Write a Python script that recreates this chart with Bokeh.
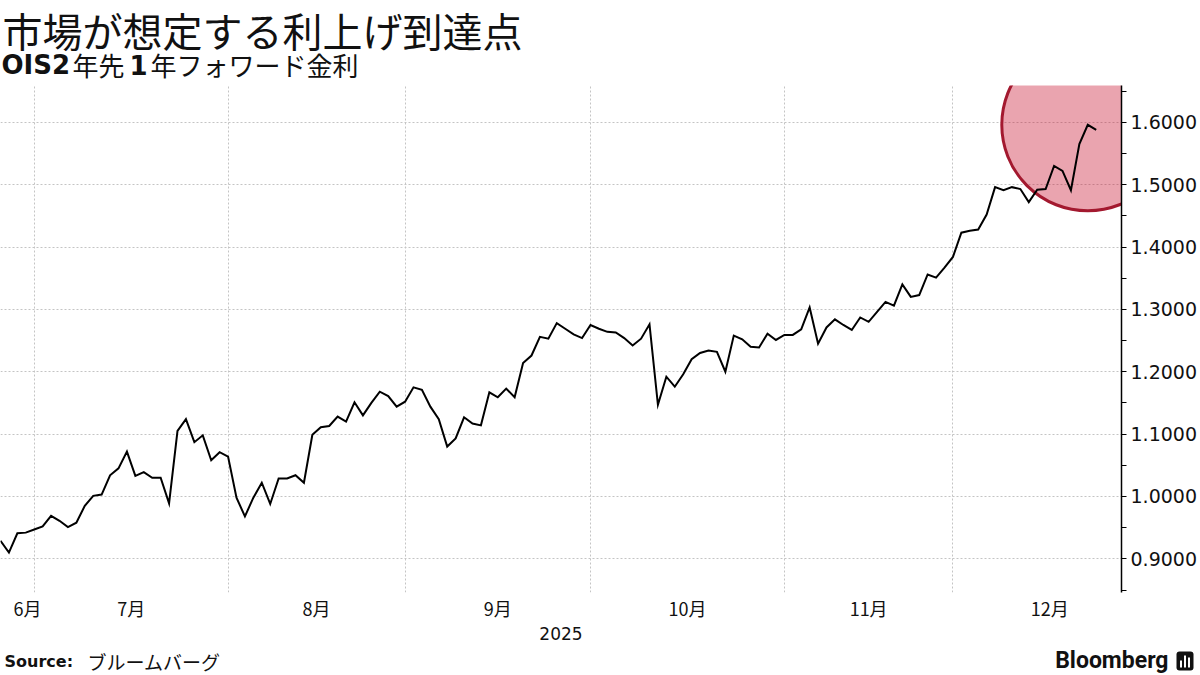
import pandas as pd
from bokeh.plotting import figure
from bokeh.layouts import column
from bokeh.models import FixedTicker, NumeralTickFormatter, BoxAnnotation, Range1d
from bokeh.core.properties import value
from bokeh.embed import file_html
from bokeh.resources import INLINE

title_text = "市場が想定する利上げ到達点"
subtitle_parts = ["OIS2", "年先", "1", "年フォワード金利"]
subtitle_bold = [True, False, True, False]
source_label = "Source:"
source_text = "ブルームバーグ"
brand = "Bloomberg"

start_date = "2025-06-25"
values = [
    0.929, 0.910, 0.941, 0.942, 0.947, 0.952, 0.969, 0.961, 0.951, 0.958,
    0.985, 1.001, 1.003, 1.034, 1.045, 1.072, 1.033, 1.039, 1.030, 1.030,
    0.989, 1.105, 1.124, 1.087, 1.098, 1.058, 1.071, 1.064, 0.998, 0.968,
    0.998, 1.022, 0.988, 1.029, 1.029, 1.034, 1.022, 1.099, 1.111, 1.113,
    1.128, 1.120, 1.151, 1.130, 1.150, 1.168, 1.161, 1.144, 1.152, 1.175,
    1.171, 1.144, 1.124, 1.080, 1.093, 1.127, 1.117, 1.114, 1.167, 1.159,
    1.173, 1.159, 1.214, 1.226, 1.256, 1.253, 1.278, 1.269, 1.260, 1.254,
    1.275, 1.269, 1.264, 1.263, 1.254, 1.242, 1.253, 1.276, 1.147, 1.192,
    1.176, 1.196, 1.220, 1.230, 1.234, 1.232, 1.200, 1.258, 1.252, 1.240,
    1.239, 1.261, 1.251, 1.259, 1.259, 1.268, 1.303, 1.245, 1.271, 1.284,
    1.275, 1.267, 1.287, 1.280, 1.296, 1.312, 1.306, 1.340, 1.320, 1.323,
    1.356, 1.351, 1.367, 1.384, 1.423, 1.426, 1.428, 1.452, 1.496, 1.491,
    1.496, 1.493, 1.472, 1.492, 1.493, 1.530, 1.522, 1.491, 1.565, 1.596,
    1.588,
]
y_ticks = [0.9, 1.0, 1.1, 1.2, 1.3, 1.4, 1.5, 1.6]
y_minor = [0.85, 0.95, 1.05, 1.15, 1.25, 1.35, 1.45, 1.55, 1.65]
month_labels = {6: "6月", 7: "7月", 8: "8月", 9: "9月", 10: "10月", 11: "11月", 12: "12月"}
year_label = "2025"

# business-day index axis
calendar = pd.bdate_range(start_date, "2025-12-31")
xs = list(range(len(values)))
firsts = {}
for i, d in enumerate(calendar):
    firsts.setdefault(d.month, i)
months = sorted(firsts)
boundaries = [firsts[m] for m in months if firsts[m] > 0]
centers = {}
for k, m in enumerate(months):
    a = firsts[m]
    b = firsts[months[k + 1]] if k + 1 < len(months) else len(calendar)
    centers[m] = max((a + b) / 2.0, 3.2)

W = 1200
HEAD_H, MAIN_H, FOOT_H = 85, 561, 29
TXT = "#111111"
JP = "Noto Sans CJK JP"
LAT = "DejaVu Sans"


def blank(h):
    f = figure(width=W, height=h, output_backend="svg", toolbar_location=None,
               x_range=Range1d(0, W), y_range=Range1d(h, 0),
               x_axis_location=None, y_axis_location=None, frame_align=False,
               min_border=0, min_border_left=0, min_border_right=0,
               min_border_top=0, min_border_bottom=0)
    f.grid.visible = False
    f.outline_line_color = None
    return f


# ---- header
head = blank(HEAD_H)
head.text(x=[2], y=[29], text=[title_text], text_font=value(JP), text_font_size="40px",
          text_baseline="middle", text_color=TXT)
sub_x = [1, 72, 129, 150]
for t, b, sx in zip(subtitle_parts, subtitle_bold, sub_x):
    head.text(x=[sx], y=[64], text=[t], text_font=value(LAT if b else JP),
              text_font_size="26px", text_font_style="bold" if b else "normal",
              text_baseline="middle", text_color=TXT)

# ---- main chart
p = figure(width=W, height=MAIN_H, output_backend="svg", toolbar_location=None,
           y_axis_location="right", x_range=Range1d(0, 133), y_range=Range1d(0.846, 1.659),
           frame_align=False,
           min_border_left=0, min_border_right=79, min_border_top=0, min_border_bottom=54)
p.outline_line_color = None
p.background_fill_color = "white"

p.ygrid.ticker = FixedTicker(ticks=y_ticks)
p.ygrid.grid_line_color = "#c4c4c4"
p.ygrid.grid_line_dash = "2 2"
p.xgrid.ticker = FixedTicker(ticks=boundaries)
p.xgrid.grid_line_color = "#c4c4c4"
p.xgrid.grid_line_dash = "2 2"

ya = p.yaxis[0]
ya.ticker = FixedTicker(ticks=y_ticks, minor_ticks=y_minor)
ya.formatter = NumeralTickFormatter(format="0.0000")
ya.axis_line_color = "black"
ya.axis_line_width = 1.5
ya.major_tick_line_color = "black"
ya.minor_tick_line_color = "black"
ya.major_tick_in = 0
ya.major_tick_out = 5
ya.minor_tick_in = 0
ya.minor_tick_out = 5
ya.major_label_text_font = LAT
ya.major_label_text_font_size = "19px"
ya.major_label_text_color = TXT
ya.major_label_standoff = 4

xa = p.xaxis[0]
xa.ticker = FixedTicker(ticks=[centers[m] for m in months])
xa.major_label_overrides = {centers[m]: month_labels[m] for m in months}
xa.axis_line_color = None
xa.major_tick_line_color = None
xa.minor_tick_line_color = None
xa.major_tick_in = 0
xa.major_tick_out = 0
xa.minor_tick_in = 0
xa.minor_tick_out = 0
xa.major_label_text_font = JP
xa.major_label_text_font_size = "18px"
xa.major_label_text_color = TXT
xa.major_label_standoff = 2
xa.axis_label = year_label
xa.axis_label_text_font = LAT
xa.axis_label_text_font_size = "17px"
xa.axis_label_text_font_style = "normal"
xa.axis_label_text_color = TXT
xa.axis_label_standoff = 3

peak = max(range(len(values)), key=lambda i: values[i])
p.scatter(x=[xs[peak]], y=[values[peak]], size=172, marker="circle",
          fill_color="#c8102e", fill_alpha=0.38, line_color="#a3192f", line_width=3)
p.line(xs, values, line_color="black", line_width=2, line_join="miter")

# ---- footer
foot = blank(FOOT_H)
foot.text(x=[4], y=[15], text=[source_label], text_font=value(LAT), text_font_size="16px",
          text_font_style="bold", text_baseline="middle", text_color=TXT)
foot.text(x=[87], y=[15], text=[source_text], text_font=value(JP), text_font_size="19px",
          text_baseline="middle", text_color=TXT)
foot.text(x=[1168], y=[14], text=[brand], text_font=value("Roboto"), text_font_size="23px",
          text_font_style="bold", text_align="right", text_baseline="middle", text_color=TXT)
foot.add_layout(BoxAnnotation(left=1176, right=1193, top=5, bottom=24, fill_color=TXT,
                              fill_alpha=1, line_color=None, border_radius=3))
for bl, bt in [(1179.5, 14), (1183.5, 9), (1187.5, 11)]:
    foot.add_layout(BoxAnnotation(left=bl, right=bl + 2, top=bt, bottom=21, fill_color="white",
                                  fill_alpha=1, line_color=None))

layout = column(head, p, foot, spacing=0)
open("out.html", "w").write(file_html(layout, INLINE))
